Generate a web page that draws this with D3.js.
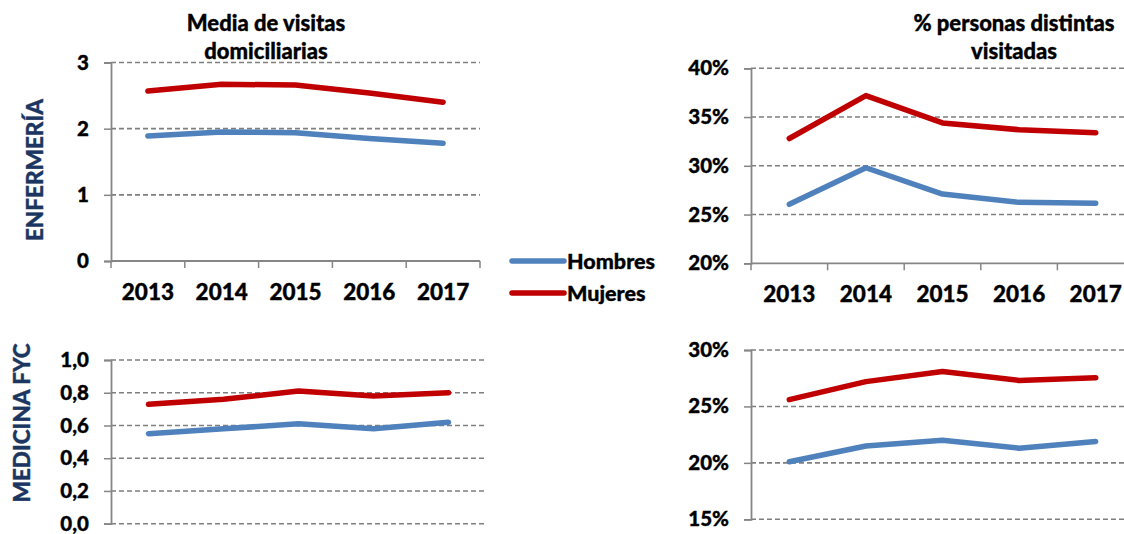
<!DOCTYPE html>
<html>
<head>
<meta charset="utf-8">
<script src="https://cdn.jsdelivr.net/npm/d3@7"></script>
<style>
  body { margin: 0; background: #fff; }
  svg { display: block; font-family: Lato, "Open Sans", sans-serif; font-weight: 900; }
  svg text { stroke: currentColor; stroke-width: 0.35px; }
</style>
</head>
<body>
<svg id="chart" width="1124" height="534"></svg>
<script>
// data
const years = ["2013", "2014", "2015", "2016", "2017"];

const enfVisitasHombres = [1.89, 1.95, 1.94, 1.85, 1.78];
const enfVisitasMujeres = [2.57, 2.67, 2.66, 2.54, 2.40];

const enfPersonasHombres = [0.2605, 0.298, 0.271, 0.2625, 0.2615];
const enfPersonasMujeres = [0.328, 0.372, 0.344, 0.337, 0.334];

const medVisitasHombres = [0.55, 0.58, 0.61, 0.58, 0.62];
const medVisitasMujeres = [0.73, 0.76, 0.81, 0.78, 0.80];

const medPersonasHombres = [0.201, 0.215, 0.220, 0.213, 0.219];
const medPersonasMujeres = [0.256, 0.272, 0.281, 0.273, 0.2755];

const seriesNames = ["Hombres", "Mujeres"];
const colors = { Hombres: "#4F81BD", Mujeres: "#C00000" };

const svg = d3.select("#chart");
const axisColor = "#868686";
const comma = d3.formatLocale({ decimal: ",", thousands: ".", grouping: [3], currency: ["", "€"] });

function drawPanel(p) {
    const x = d3.scaleBand().domain(years).range([p.x0, p.x1]);
    const y = d3.scaleLinear().domain(p.domain).range([p.y0, p.y1]);
    const g = svg.append("g");
    const ticks = d3.range(p.domain[0], p.domain[1] + p.step / 2, p.step);

    // dashed grid
    g.selectAll(".grid")
        .data(p.solidBase ? ticks.slice(1) : ticks)
        .enter().append("line")
        .attr("x1", p.x0).attr("x2", p.x1)
        .attr("y1", d => y(d)).attr("y2", d => y(d))
        .attr("stroke", "#7f7f7f")
        .attr("stroke-width", 1.6)
        .attr("stroke-dasharray", "5,3");

    // y axis
    const yAxis = d3.axisLeft(y).tickValues(ticks).tickSize(7).tickPadding(15).tickFormat(p.format);
    const ya = g.append("g").attr("transform", `translate(${p.x0},0)`).call(yAxis);
    ya.select(".domain").attr("stroke", axisColor).attr("stroke-width", 1.8);
    ya.selectAll(".tick line").attr("stroke", axisColor).attr("stroke-width", 1.5);
    ya.selectAll(".tick text").attr("fill", "#000").attr("color", "#000").attr("font-size", 20.5)
        .attr("font-family", "Lato, 'Open Sans', sans-serif").attr("font-weight", 900);

    // x axis (top row only)
    if (p.solidBase) {
        g.append("line")
            .attr("x1", p.x0).attr("x2", p.x1)
            .attr("y1", p.y0).attr("y2", p.y0)
            .attr("stroke", axisColor).attr("stroke-width", 1.8);
        const edges = years.map(d => x(d)).concat([p.x1]);
        g.selectAll(".xtick").data(edges).enter().append("line")
            .attr("x1", d => d).attr("x2", d => d)
            .attr("y1", p.y0).attr("y2", p.y0 + 7)
            .attr("stroke", axisColor).attr("stroke-width", 1.5);
        g.selectAll(".xlabel").data(years).enter().append("text")
            .attr("x", d => x(d) + x.bandwidth() / 2)
            .attr("y", p.y0 + 39)
            .attr("text-anchor", "middle")
            .attr("font-size", 22.5)
            .text(d => d);
    }

    const line = d3.line()
        .x((d, i) => x(years[i]) + x.bandwidth() / 2)
        .y(d => y(d));

    p.series.forEach((vals, i) => {
        g.append("path")
            .datum(vals)
            .attr("d", line)
            .attr("fill", "none")
            .attr("stroke", colors[seriesNames[i]])
            .attr("stroke-width", 5.5)
            .attr("stroke-linecap", "round")
            .attr("stroke-linejoin", "round");
    });

    if (p.title) {
        p.title.forEach((t, i) => {
            svg.append("text")
                .attr("x", p.titleX)
                .attr("y", 31 + i * 28)
                .attr("text-anchor", "middle")
                .attr("font-size", 22)
                .text(t);
        });
    }
}

drawPanel({
    x0: 111, x1: 480, y0: 261, y1: 62.5,
    domain: [0, 3], step: 1, format: d3.format("d"),
    solidBase: true,
    series: [enfVisitasHombres, enfVisitasMujeres],
    title: ["Media de visitas", "domiciliarias"], titleX: 266
});

drawPanel({
    x0: 751, x1: 1134, y0: 263.3, y1: 68.3,
    domain: [0.2, 0.4], step: 0.05, format: d3.format(".0%"),
    solidBase: true,
    series: [enfPersonasHombres, enfPersonasMujeres],
    title: ["% personas distintas", "visitadas"], titleX: 1014
});

drawPanel({
    x0: 111, x1: 486, y0: 523.7, y1: 360,
    domain: [0, 1], step: 0.2, format: comma.format(".1f"),
    solidBase: false,
    series: [medVisitasHombres, medVisitasMujeres]
});

drawPanel({
    x0: 751, x1: 1134, y0: 519.3, y1: 350,
    domain: [0.15, 0.30], step: 0.05, format: d3.format(".0%"),
    solidBase: false,
    series: [medPersonasHombres, medPersonasMujeres]
});

// row labels
const rowLabels = [
    { text: "ENFERMERÍA", x: 43, y: 170 },
    { text: "MEDICINA FYC", x: 30, y: 423 }
];
svg.selectAll(".rowlabel").data(rowLabels).enter().append("text")
    .attr("transform", d => `translate(${d.x},${d.y}) rotate(-90)`)
    .attr("text-anchor", "middle")
    .attr("font-size", 22.5)
    .attr("fill", "#1B3660")
    .attr("color", "#1B3660")
    .text(d => d.text);

// legend
const legend = svg.append("g");
seriesNames.forEach((name, i) => {
    const ly = 261 + i * 32;
    legend.append("line")
        .attr("x1", 512).attr("x2", 564)
        .attr("y1", ly).attr("y2", ly)
        .attr("stroke", colors[name])
        .attr("stroke-width", 5.5)
        .attr("stroke-linecap", "round");
    legend.append("text")
        .attr("x", 567).attr("y", ly + 7.5)
        .attr("font-size", 21.5)
        .text(name);
});
</script>
</body>
</html>
